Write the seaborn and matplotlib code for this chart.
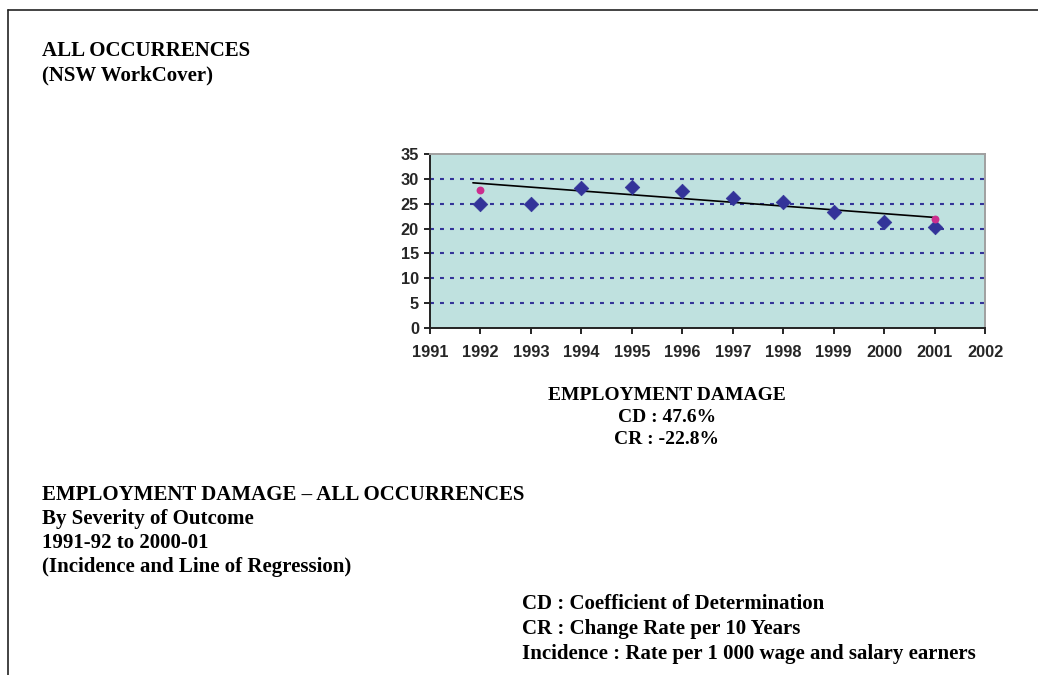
import matplotlib.pyplot as plt
import pandas as pd
import seaborn as sns

# incidence per 1 000 wage and salary earners
years = [1992, 1993, 1994, 1995, 1996, 1997, 1998, 1999, 2000, 2001]
incidence = [25.0, 25.0, 28.1, 28.4, 27.6, 26.2, 25.3, 23.3, 21.4, 20.4]

# regression end points (pink dots) and the drawn line
reg_years = [1992, 2001]
reg_values = [27.8, 22.0]
line_years = [1991.85, 2001.05]
line_values = [29.2, 22.2]

x_ticks = list(range(1991, 2003))
y_ticks = [0, 5, 10, 15, 20, 25, 30, 35]

NAVY = '#333399'
PINK = '#CC2E8E'


def main():
    df = pd.DataFrame({'year': years, 'incidence': incidence})
    df_reg = pd.DataFrame({'year': reg_years, 'value': reg_values})
    df_line = pd.DataFrame({'year': line_years, 'value': line_values})

    sns.set_theme(style='white')
    plt.rcParams['font.family'] = ['Liberation Sans', 'DejaVu Sans']

    fig = plt.figure(figsize=(10.38, 6.75), dpi=100)
    ax = fig.add_axes([0.4143, 0.5141, 0.5347, 0.2578])
    ax.set_facecolor('#BFE1DF')

    for v in y_ticks[1:-1]:
        ax.axhline(v, color=NAVY, lw=1.5, dashes=(1.9, 2.9), zorder=1)

    sns.lineplot(data=df_line, x='year', y='value', color='black', lw=1.2, ax=ax, zorder=3)
    sns.scatterplot(data=df, x='year', y='incidence', marker='D', s=55, color=NAVY,
                    edgecolor=NAVY, linewidth=0.5, ax=ax, zorder=4)
    sns.scatterplot(data=df_reg, x='year', y='value', marker='o', s=32, color=PINK,
                    edgecolor=PINK, linewidth=0, ax=ax, zorder=4)

    ax.set_xlim(1991, 2002)
    ax.set_ylim(0, 35)
    ax.set_xticks(x_ticks)
    ax.set_yticks(y_ticks)
    ax.set_xticklabels([str(t) for t in x_ticks], fontweight='bold', fontsize=11.8)
    ax.set_yticklabels([str(t) for t in y_ticks], fontweight='bold', fontsize=11.8)
    ax.tick_params(axis='both', direction='out', length=4, width=1.2, color='black',
                   pad=4, bottom=True, left=True)
    ax.tick_params(axis='x', pad=8)
    ax.set_xlabel('')
    ax.set_ylabel('')

    for side in ['left', 'bottom']:
        ax.spines[side].set_color('#222222')
        ax.spines[side].set_linewidth(1.4)
    for side in ['top', 'right']:
        ax.spines[side].set_color('#A0A0A0')
        ax.spines[side].set_linewidth(1.4)

    serif = dict(family=['Liberation Serif', 'DejaVu Serif'], fontweight='bold',
                 color='black')

    def px(x, y):
        return x / 1038, 1 - y / 675

    fig.text(*px(42, 51), 'ALL OCCURRENCES', va='center', ha='left', fontsize=15, **serif)
    fig.text(*px(42, 75), '(NSW WorkCover)', va='center', ha='left', fontsize=15, **serif)

    fig.text(*px(667, 396), 'EMPLOYMENT DAMAGE', va='center', ha='center', fontsize=14, **serif)
    fig.text(*px(667, 418), 'CD : 47.6%', va='center', ha='center', fontsize=14, **serif)
    fig.text(*px(667, 440), 'CR : -22.8%', va='center', ha='center', fontsize=14, **serif)

    left_lines = ['EMPLOYMENT DAMAGE \u2013 ALL OCCURRENCES', 'By Severity of Outcome',
                  '1991-92 to 2000-01', '(Incidence and Line of Regression)']
    for i, t in enumerate(left_lines):
        fig.text(*px(42, 495 + 24 * i), t, va='center', ha='left', fontsize=15, **serif)

    right_lines = ['CD : Coefficient of Determination', 'CR : Change Rate per 10 Years',
                   'Incidence : Rate per 1 000 wage and salary earners']
    for i, t in enumerate(right_lines):
        fig.text(*px(522, 604 + 25 * i), t, va='center', ha='left', fontsize=15, **serif)

    # page frame: top and left edges
    fig.add_artist(plt.Line2D([8 / 1038, 1], [1 - 10 / 675, 1 - 10 / 675],
                              color='#222222', lw=1.2, transform=fig.transFigure))
    fig.add_artist(plt.Line2D([8 / 1038, 8 / 1038], [0, 1 - 10 / 675],
                              color='#222222', lw=1.2, transform=fig.transFigure))

    fig.savefig('out.png', dpi=100, facecolor='white')


if __name__ == '__main__':
    main()
